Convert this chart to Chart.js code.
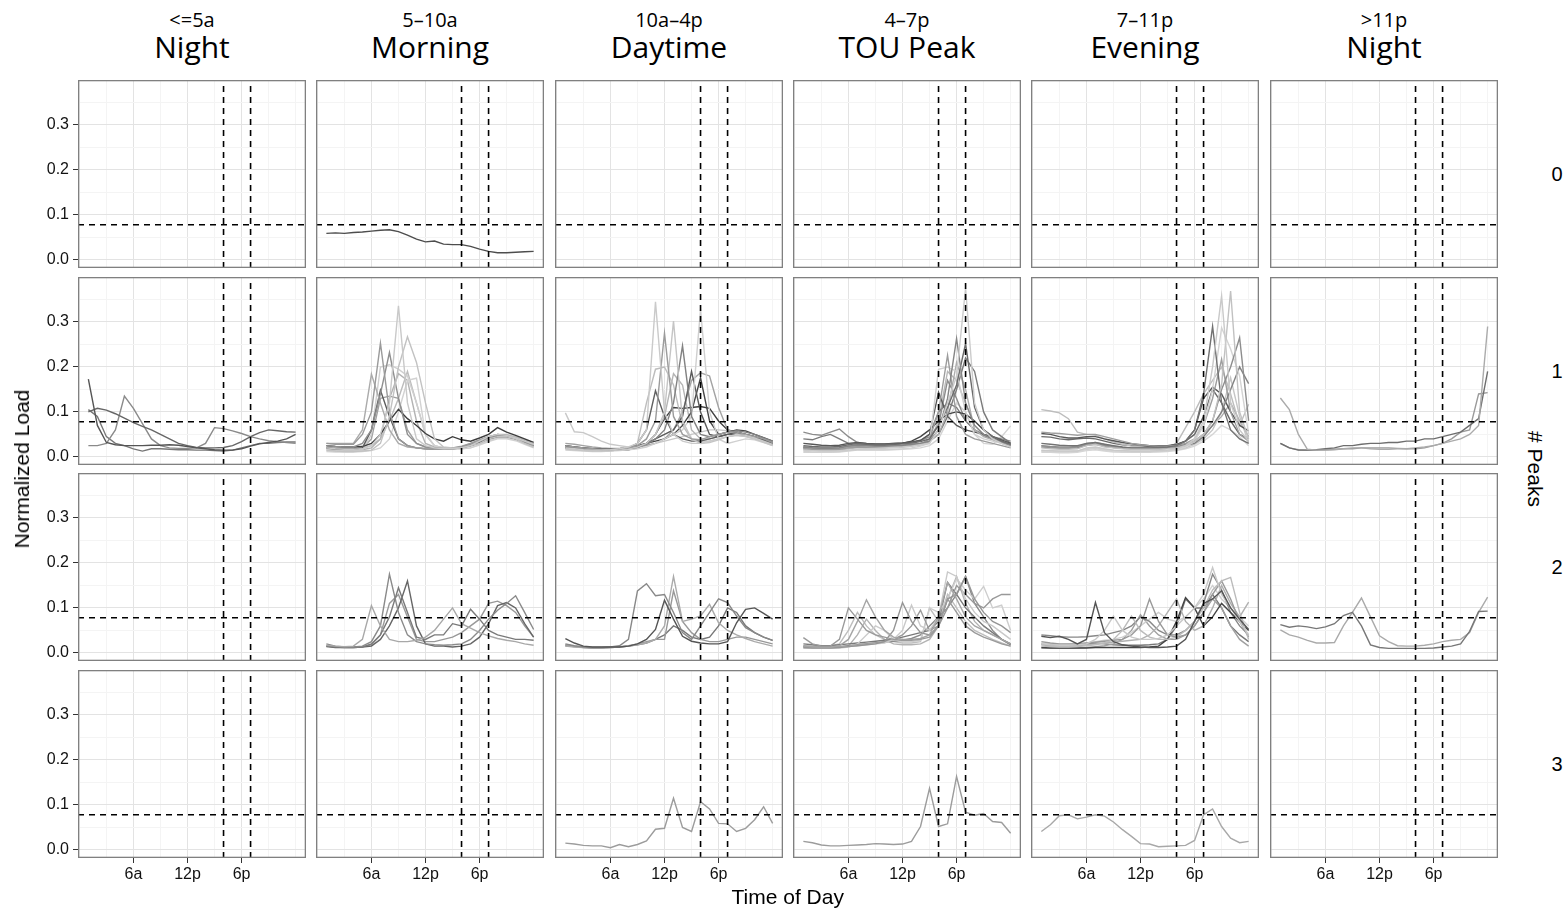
<!DOCTYPE html>
<html>
<head>
<meta charset="utf-8">
<title>Daily load shapes by peak period and number of peaks</title>
<script src="https://cdn.jsdelivr.net/npm/chart.js@4.4.1/dist/chart.umd.min.js"></script>
<style>
    html, body { margin: 0; padding: 0; background: #fff; }
    #figure {
        position: relative;
        width: 1568px;
        height: 910px;
        overflow: hidden;
        font-family: 'Liberation Sans', Arial, sans-serif;
        color: #000;
    }
    #figure canvas { position: absolute; }
    .label { position: absolute; white-space: nowrap; }
    .period-range, .period-name {
        font-family: 'Open Sans', sans-serif;
        text-align: center;
        width: 228px;
    }
    .period-range { font-size: 20px; line-height: 24px; top: 8px; }
    .period-name { font-size: 30px; line-height: 36px; top: 29px; }
    .peak-count { font-size: 20px; line-height: 24px; transform: translate(-50%, -50%); }
    .axis-title { font-size: 21px; line-height: 24px; }
</style>
</head>
<body>
<div id="figure"></div>
<script>
// Hour of day for every series (1 = first hour after midnight)
const hours = [1, 2, 3, 4, 5, 6, 7, 8, 9, 10, 11, 12, 13, 14, 15, 16, 17, 18, 19, 20, 21, 22, 23, 24];
const hourLabels = { 6: '6a', 12: '12p', 18: '6p' };
const hourGrid = [0, 3, 6, 9, 12, 15, 18, 21, 24];
const loadGrid = [0, 0.05, 0.1, 0.15, 0.2, 0.25, 0.3, 0.35];

const periodRanges = ['<=5a', '5\u201310a', '10a\u20134p', '4\u20137p', '7\u201311p', '>11p'];
const periodNames = ['Night', 'Morning', 'Daytime', 'TOU Peak', 'Evening', 'Night'];
const peakCounts = ['0', '1', '2', '3'];

// reference lines: load threshold and the TOU window (4p-7p)
const loadThreshold = 0.078;
const touWindow = [16, 19];

// ---- 0 peaks ----
const morning0a = [0.059, 0.060, 0.059, 0.061, 0.062, 0.064, 0.066, 0.067, 0.063, 0.055, 0.046, 0.040, 0.042, 0.035, 0.034, 0.034, 0.030, 0.024, 0.019, 0.016, 0.016, 0.017, 0.018, 0.019];

// ---- 1 peak ----
const night1a = [0.173, 0.070, 0.032, 0.027, 0.025, 0.025, 0.025, 0.026, 0.026, 0.027, 0.026, 0.023, 0.020, 0.018, 0.016, 0.015, 0.015, 0.018, 0.024, 0.029, 0.032, 0.035, 0.040, 0.050];
const night1b = [0.100, 0.108, 0.104, 0.096, 0.086, 0.076, 0.068, 0.060, 0.050, 0.040, 0.030, 0.025, 0.021, 0.020, 0.020, 0.021, 0.025, 0.034, 0.045, 0.054, 0.060, 0.058, 0.056, 0.055];
const night1c = [0.025, 0.025, 0.030, 0.060, 0.135, 0.108, 0.074, 0.040, 0.025, 0.020, 0.019, 0.019, 0.020, 0.030, 0.065, 0.063, 0.058, 0.052, 0.045, 0.040, 0.036, 0.034, 0.032, 0.030];
const night1d = [0.105, 0.090, 0.045, 0.030, 0.025, 0.018, 0.013, 0.018, 0.018, 0.017, 0.016, 0.016, 0.015, 0.015, 0.014, 0.013, 0.015, 0.020, 0.025, 0.030, 0.030, 0.032, 0.033, 0.033];

const morning1a = [0.020, 0.018, 0.017, 0.017, 0.018, 0.025, 0.050, 0.120, 0.336, 0.120, 0.040, 0.025, 0.020, 0.018, 0.018, 0.020, 0.025, 0.035, 0.045, 0.050, 0.048, 0.042, 0.035, 0.028];
const morning1b = [0.015, 0.013, 0.012, 0.012, 0.013, 0.015, 0.030, 0.090, 0.200, 0.267, 0.210, 0.120, 0.040, 0.022, 0.020, 0.020, 0.025, 0.030, 0.040, 0.045, 0.045, 0.040, 0.030, 0.022];
const morning1c = [0.030, 0.028, 0.028, 0.028, 0.050, 0.100, 0.253, 0.100, 0.040, 0.025, 0.020, 0.018, 0.017, 0.017, 0.018, 0.022, 0.030, 0.038, 0.045, 0.050, 0.048, 0.042, 0.035, 0.025];
const morning1d = [0.025, 0.023, 0.022, 0.022, 0.030, 0.060, 0.140, 0.232, 0.130, 0.050, 0.030, 0.022, 0.020, 0.019, 0.020, 0.022, 0.028, 0.035, 0.042, 0.048, 0.046, 0.040, 0.033, 0.025];
const morning1e = [0.030, 0.030, 0.030, 0.030, 0.060, 0.184, 0.120, 0.060, 0.030, 0.022, 0.020, 0.018, 0.018, 0.018, 0.020, 0.024, 0.030, 0.038, 0.045, 0.050, 0.047, 0.042, 0.035, 0.030];
const morning1f = [0.020, 0.018, 0.017, 0.017, 0.020, 0.060, 0.148, 0.090, 0.040, 0.025, 0.020, 0.018, 0.017, 0.017, 0.018, 0.020, 0.025, 0.032, 0.040, 0.045, 0.045, 0.040, 0.033, 0.025];
const morning1g = [0.025, 0.023, 0.022, 0.022, 0.023, 0.030, 0.050, 0.080, 0.106, 0.085, 0.070, 0.052, 0.040, 0.035, 0.045, 0.038, 0.035, 0.042, 0.050, 0.065, 0.055, 0.048, 0.040, 0.032];
const morning1h = [0.015, 0.013, 0.012, 0.012, 0.015, 0.050, 0.200, 0.205, 0.195, 0.180, 0.120, 0.050, 0.025, 0.020, 0.018, 0.018, 0.020, 0.028, 0.036, 0.042, 0.042, 0.038, 0.030, 0.022];
const morning1i = [0.012, 0.011, 0.011, 0.011, 0.012, 0.014, 0.020, 0.040, 0.100, 0.170, 0.175, 0.050, 0.025, 0.020, 0.018, 0.018, 0.020, 0.026, 0.034, 0.040, 0.040, 0.036, 0.028, 0.020];
const morning1j = [0.018, 0.016, 0.015, 0.015, 0.016, 0.020, 0.040, 0.130, 0.185, 0.170, 0.080, 0.030, 0.022, 0.020, 0.019, 0.020, 0.024, 0.030, 0.038, 0.044, 0.043, 0.038, 0.030, 0.024];
const morning1k = [0.020, 0.018, 0.017, 0.017, 0.020, 0.040, 0.130, 0.135, 0.130, 0.060, 0.030, 0.022, 0.020, 0.019, 0.019, 0.022, 0.026, 0.034, 0.042, 0.046, 0.045, 0.040, 0.032, 0.025];
const morning1l = [0.022, 0.020, 0.019, 0.019, 0.020, 0.025, 0.040, 0.080, 0.130, 0.190, 0.120, 0.050, 0.025, 0.020, 0.020, 0.021, 0.026, 0.034, 0.042, 0.050, 0.050, 0.045, 0.038, 0.030];

const daytime1a = [0.020, 0.018, 0.016, 0.015, 0.015, 0.016, 0.018, 0.022, 0.030, 0.060, 0.345, 0.100, 0.050, 0.035, 0.030, 0.030, 0.035, 0.040, 0.045, 0.050, 0.048, 0.042, 0.035, 0.028];
const daytime1b = [0.025, 0.022, 0.020, 0.018, 0.016, 0.016, 0.018, 0.020, 0.025, 0.040, 0.080, 0.275, 0.090, 0.050, 0.040, 0.038, 0.045, 0.050, 0.055, 0.055, 0.050, 0.045, 0.040, 0.032];
const daytime1c = [0.018, 0.016, 0.014, 0.013, 0.013, 0.014, 0.015, 0.018, 0.022, 0.030, 0.050, 0.100, 0.302, 0.080, 0.040, 0.030, 0.032, 0.038, 0.045, 0.048, 0.045, 0.040, 0.033, 0.025];
const daytime1d = [0.022, 0.020, 0.018, 0.017, 0.016, 0.017, 0.018, 0.020, 0.022, 0.028, 0.040, 0.060, 0.120, 0.247, 0.090, 0.050, 0.045, 0.050, 0.055, 0.058, 0.055, 0.050, 0.042, 0.035];
const daytime1e = [0.015, 0.014, 0.013, 0.012, 0.012, 0.013, 0.014, 0.016, 0.018, 0.022, 0.030, 0.040, 0.050, 0.060, 0.090, 0.328, 0.100, 0.040, 0.030, 0.035, 0.040, 0.038, 0.032, 0.025];
const daytime1f = [0.020, 0.018, 0.016, 0.015, 0.015, 0.016, 0.017, 0.020, 0.025, 0.030, 0.040, 0.050, 0.060, 0.090, 0.190, 0.100, 0.050, 0.045, 0.050, 0.055, 0.050, 0.045, 0.038, 0.030];
const daytime1g = [0.025, 0.022, 0.020, 0.018, 0.017, 0.017, 0.018, 0.020, 0.024, 0.030, 0.035, 0.040, 0.050, 0.070, 0.100, 0.176, 0.080, 0.050, 0.055, 0.060, 0.058, 0.050, 0.043, 0.035];
const daytime1h = [0.030, 0.028, 0.025, 0.022, 0.020, 0.019, 0.019, 0.020, 0.022, 0.026, 0.030, 0.040, 0.060, 0.100, 0.170, 0.187, 0.180, 0.110, 0.060, 0.055, 0.050, 0.045, 0.040, 0.032];
const daytime1i = [0.025, 0.022, 0.020, 0.018, 0.017, 0.017, 0.018, 0.020, 0.030, 0.060, 0.147, 0.090, 0.050, 0.040, 0.035, 0.035, 0.040, 0.045, 0.050, 0.050, 0.048, 0.043, 0.036, 0.028];
const daytime1j = [0.018, 0.016, 0.015, 0.014, 0.014, 0.015, 0.016, 0.018, 0.030, 0.120, 0.195, 0.200, 0.160, 0.070, 0.040, 0.035, 0.035, 0.040, 0.045, 0.048, 0.046, 0.040, 0.033, 0.026];
const daytime1k = [0.020, 0.018, 0.016, 0.015, 0.015, 0.016, 0.017, 0.020, 0.024, 0.030, 0.050, 0.090, 0.185, 0.160, 0.060, 0.040, 0.040, 0.045, 0.050, 0.052, 0.050, 0.045, 0.038, 0.030];
const daytime1l = [0.020, 0.018, 0.016, 0.015, 0.014, 0.014, 0.015, 0.016, 0.020, 0.030, 0.050, 0.085, 0.110, 0.108, 0.110, 0.112, 0.108, 0.080, 0.060, 0.055, 0.050, 0.045, 0.038, 0.030];
const daytime1m = [0.098, 0.056, 0.054, 0.045, 0.035, 0.028, 0.025, 0.022, 0.022, 0.025, 0.030, 0.035, 0.040, 0.045, 0.050, 0.055, 0.060, 0.060, 0.058, 0.055, 0.050, 0.045, 0.040, 0.035];

const touPeak1a = [0.015, 0.014, 0.013, 0.013, 0.013, 0.015, 0.017, 0.018, 0.019, 0.020, 0.021, 0.022, 0.024, 0.027, 0.030, 0.060, 0.120, 0.180, 0.375, 0.120, 0.060, 0.040, 0.030, 0.022];
const touPeak1b = [0.022, 0.020, 0.019, 0.019, 0.020, 0.024, 0.026, 0.025, 0.024, 0.024, 0.025, 0.026, 0.028, 0.030, 0.035, 0.060, 0.130, 0.263, 0.120, 0.070, 0.050, 0.040, 0.032, 0.025];
const touPeak1c = [0.025, 0.023, 0.022, 0.022, 0.023, 0.027, 0.030, 0.028, 0.027, 0.027, 0.028, 0.029, 0.031, 0.034, 0.040, 0.070, 0.110, 0.160, 0.252, 0.110, 0.060, 0.045, 0.035, 0.028];
const touPeak1d = [0.018, 0.017, 0.016, 0.016, 0.017, 0.020, 0.022, 0.021, 0.021, 0.021, 0.022, 0.023, 0.025, 0.028, 0.040, 0.100, 0.226, 0.090, 0.050, 0.040, 0.035, 0.030, 0.025, 0.020];
const touPeak1e = [0.012, 0.011, 0.011, 0.011, 0.012, 0.014, 0.016, 0.016, 0.016, 0.016, 0.017, 0.018, 0.020, 0.024, 0.030, 0.195, 0.200, 0.190, 0.100, 0.050, 0.040, 0.035, 0.030, 0.024];
const touPeak1f = [0.020, 0.018, 0.017, 0.017, 0.018, 0.022, 0.024, 0.023, 0.022, 0.022, 0.023, 0.024, 0.026, 0.030, 0.035, 0.050, 0.100, 0.210, 0.150, 0.060, 0.045, 0.038, 0.030, 0.025];
const touPeak1g = [0.030, 0.028, 0.026, 0.025, 0.026, 0.030, 0.032, 0.030, 0.029, 0.029, 0.030, 0.031, 0.033, 0.037, 0.050, 0.144, 0.090, 0.070, 0.060, 0.055, 0.050, 0.045, 0.038, 0.030];
const touPeak1h = [0.022, 0.020, 0.019, 0.019, 0.020, 0.024, 0.026, 0.025, 0.024, 0.024, 0.025, 0.026, 0.028, 0.030, 0.035, 0.050, 0.090, 0.150, 0.220, 0.190, 0.100, 0.060, 0.045, 0.030];
const touPeak1i = [0.020, 0.019, 0.018, 0.018, 0.019, 0.022, 0.024, 0.024, 0.025, 0.026, 0.028, 0.030, 0.035, 0.045, 0.060, 0.080, 0.095, 0.100, 0.095, 0.080, 0.060, 0.045, 0.035, 0.025];
const touPeak1j = [0.055, 0.050, 0.048, 0.055, 0.062, 0.045, 0.032, 0.030, 0.029, 0.029, 0.030, 0.031, 0.033, 0.036, 0.045, 0.070, 0.170, 0.130, 0.080, 0.060, 0.050, 0.045, 0.040, 0.035];
const touPeak1k = [0.040, 0.038, 0.045, 0.050, 0.040, 0.030, 0.028, 0.027, 0.027, 0.027, 0.028, 0.030, 0.032, 0.036, 0.050, 0.100, 0.120, 0.110, 0.080, 0.060, 0.048, 0.040, 0.033, 0.027];
const touPeak1l = [0.010, 0.010, 0.010, 0.010, 0.011, 0.013, 0.015, 0.015, 0.015, 0.015, 0.016, 0.017, 0.018, 0.020, 0.025, 0.040, 0.080, 0.120, 0.100, 0.050, 0.030, 0.028, 0.045, 0.069];
const touPeak1m = [0.016, 0.015, 0.014, 0.014, 0.015, 0.018, 0.020, 0.020, 0.020, 0.020, 0.021, 0.022, 0.024, 0.027, 0.033, 0.080, 0.190, 0.170, 0.120, 0.070, 0.050, 0.040, 0.032, 0.026];

const evening1a = [0.015, 0.014, 0.013, 0.013, 0.013, 0.020, 0.022, 0.018, 0.015, 0.014, 0.013, 0.013, 0.013, 0.014, 0.015, 0.018, 0.025, 0.040, 0.080, 0.200, 0.358, 0.120, 0.060, 0.035];
const evening1b = [0.020, 0.018, 0.017, 0.017, 0.018, 0.025, 0.028, 0.022, 0.020, 0.018, 0.017, 0.017, 0.017, 0.017, 0.018, 0.020, 0.025, 0.035, 0.050, 0.080, 0.160, 0.369, 0.100, 0.040];
const evening1c = [0.030, 0.028, 0.026, 0.025, 0.025, 0.030, 0.032, 0.028, 0.025, 0.022, 0.020, 0.020, 0.020, 0.021, 0.022, 0.025, 0.035, 0.060, 0.140, 0.290, 0.120, 0.060, 0.040, 0.030];
const evening1d = [0.025, 0.023, 0.022, 0.022, 0.023, 0.028, 0.030, 0.026, 0.023, 0.021, 0.020, 0.020, 0.020, 0.020, 0.021, 0.023, 0.028, 0.035, 0.050, 0.080, 0.150, 0.200, 0.265, 0.080];
const evening1e = [0.012, 0.011, 0.011, 0.011, 0.012, 0.018, 0.020, 0.016, 0.013, 0.012, 0.012, 0.012, 0.012, 0.013, 0.014, 0.016, 0.022, 0.035, 0.070, 0.150, 0.287, 0.240, 0.180, 0.050];
const evening1f = [0.022, 0.020, 0.019, 0.019, 0.020, 0.026, 0.028, 0.024, 0.021, 0.019, 0.018, 0.018, 0.018, 0.018, 0.019, 0.021, 0.025, 0.030, 0.045, 0.070, 0.100, 0.150, 0.200, 0.163];
const evening1g = [0.055, 0.053, 0.052, 0.050, 0.048, 0.050, 0.050, 0.045, 0.040, 0.035, 0.030, 0.027, 0.025, 0.024, 0.024, 0.026, 0.030, 0.040, 0.070, 0.130, 0.217, 0.100, 0.050, 0.035];
const evening1h = [0.052, 0.050, 0.045, 0.042, 0.042, 0.045, 0.045, 0.040, 0.036, 0.032, 0.029, 0.027, 0.025, 0.025, 0.025, 0.028, 0.035, 0.060, 0.130, 0.155, 0.140, 0.100, 0.070, 0.058];
const evening1i = [0.105, 0.102, 0.098, 0.085, 0.055, 0.050, 0.048, 0.040, 0.033, 0.028, 0.024, 0.022, 0.020, 0.020, 0.022, 0.030, 0.065, 0.100, 0.140, 0.170, 0.200, 0.140, 0.070, 0.117];
const evening1j = [0.014, 0.013, 0.012, 0.012, 0.013, 0.017, 0.019, 0.016, 0.014, 0.013, 0.012, 0.012, 0.012, 0.013, 0.014, 0.016, 0.020, 0.028, 0.040, 0.060, 0.100, 0.176, 0.090, 0.030];
const evening1k = [0.045, 0.044, 0.040, 0.038, 0.040, 0.042, 0.040, 0.035, 0.030, 0.027, 0.025, 0.024, 0.023, 0.023, 0.024, 0.027, 0.035, 0.050, 0.090, 0.150, 0.120, 0.080, 0.050, 0.040];
const evening1l = [0.025, 0.022, 0.020, 0.020, 0.022, 0.030, 0.032, 0.028, 0.024, 0.021, 0.019, 0.018, 0.018, 0.018, 0.019, 0.021, 0.026, 0.035, 0.050, 0.070, 0.090, 0.120, 0.080, 0.045];
const evening1m = [0.010, 0.010, 0.009, 0.009, 0.010, 0.014, 0.016, 0.013, 0.011, 0.010, 0.010, 0.010, 0.010, 0.011, 0.012, 0.014, 0.018, 0.024, 0.035, 0.050, 0.070, 0.060, 0.045, 0.025];

const lateNight1a = [0.131, 0.105, 0.050, 0.017, 0.015, 0.015, 0.016, 0.018, 0.020, 0.020, 0.018, 0.017, 0.017, 0.018, 0.018, 0.020, 0.022, 0.025, 0.030, 0.035, 0.040, 0.050, 0.070, 0.290];
const lateNight1b = [0.030, 0.020, 0.015, 0.015, 0.016, 0.018, 0.020, 0.025, 0.025, 0.028, 0.030, 0.030, 0.032, 0.032, 0.035, 0.035, 0.040, 0.040, 0.045, 0.050, 0.055, 0.070, 0.085, 0.190];
const lateNight1c = [0.030, 0.020, 0.016, 0.015, 0.015, 0.016, 0.017, 0.018, 0.018, 0.020, 0.020, 0.020, 0.020, 0.019, 0.018, 0.018, 0.020, 0.025, 0.030, 0.040, 0.055, 0.060, 0.140, 0.143];

// ---- 2 peaks ----
const morning2a = [0.017, 0.015, 0.014, 0.015, 0.030, 0.105, 0.060, 0.030, 0.025, 0.025, 0.028, 0.035, 0.050, 0.075, 0.100, 0.065, 0.055, 0.045, 0.038, 0.032, 0.028, 0.025, 0.020, 0.017];
const morning2b = [0.020, 0.015, 0.013, 0.013, 0.015, 0.025, 0.060, 0.175, 0.090, 0.040, 0.025, 0.020, 0.018, 0.017, 0.018, 0.020, 0.030, 0.050, 0.075, 0.095, 0.110, 0.127, 0.090, 0.052];
const morning2c = [0.015, 0.013, 0.012, 0.012, 0.013, 0.020, 0.040, 0.080, 0.145, 0.090, 0.035, 0.030, 0.040, 0.040, 0.065, 0.060, 0.097, 0.075, 0.050, 0.040, 0.035, 0.030, 0.030, 0.028];
const morning2d = [0.014, 0.012, 0.012, 0.012, 0.013, 0.015, 0.030, 0.060, 0.100, 0.160, 0.060, 0.020, 0.015, 0.015, 0.013, 0.015, 0.020, 0.035, 0.065, 0.105, 0.112, 0.100, 0.065, 0.035];
const morning2e = [0.016, 0.014, 0.013, 0.013, 0.014, 0.018, 0.040, 0.110, 0.130, 0.080, 0.030, 0.025, 0.025, 0.030, 0.035, 0.045, 0.060, 0.075, 0.110, 0.115, 0.105, 0.090, 0.060, 0.035];

const daytime2a = [0.032, 0.022, 0.015, 0.013, 0.013, 0.013, 0.013, 0.015, 0.020, 0.030, 0.052, 0.117, 0.075, 0.037, 0.026, 0.022, 0.020, 0.020, 0.025, 0.067, 0.097, 0.100, 0.088, 0.075];
const daytime2b = [0.020, 0.016, 0.013, 0.012, 0.012, 0.013, 0.016, 0.030, 0.138, 0.154, 0.127, 0.130, 0.090, 0.045, 0.030, 0.060, 0.090, 0.120, 0.112, 0.082, 0.056, 0.045, 0.035, 0.028];
const daytime2c = [0.015, 0.013, 0.012, 0.011, 0.011, 0.012, 0.013, 0.015, 0.018, 0.022, 0.030, 0.060, 0.170, 0.070, 0.075, 0.082, 0.108, 0.067, 0.050, 0.040, 0.032, 0.025, 0.020, 0.015];
const daytime2d = [0.018, 0.015, 0.013, 0.012, 0.012, 0.013, 0.014, 0.016, 0.020, 0.025, 0.030, 0.030, 0.138, 0.070, 0.045, 0.030, 0.025, 0.025, 0.030, 0.035, 0.035, 0.030, 0.025, 0.020];
const daytime2e = [0.016, 0.014, 0.012, 0.011, 0.011, 0.012, 0.013, 0.015, 0.018, 0.022, 0.030, 0.040, 0.060, 0.050, 0.035, 0.030, 0.035, 0.060, 0.100, 0.090, 0.060, 0.045, 0.035, 0.028];

const touPeak2a = [0.034, 0.020, 0.015, 0.015, 0.030, 0.100, 0.075, 0.050, 0.040, 0.035, 0.030, 0.028, 0.028, 0.030, 0.035, 0.060, 0.120, 0.090, 0.060, 0.045, 0.035, 0.028, 0.020, 0.015];
const touPeak2b = [0.015, 0.014, 0.013, 0.013, 0.016, 0.030, 0.070, 0.118, 0.080, 0.050, 0.035, 0.030, 0.030, 0.032, 0.040, 0.080, 0.157, 0.120, 0.080, 0.060, 0.050, 0.040, 0.030, 0.020];
const touPeak2c = [0.012, 0.011, 0.011, 0.011, 0.012, 0.014, 0.016, 0.018, 0.020, 0.025, 0.050, 0.112, 0.070, 0.045, 0.040, 0.060, 0.120, 0.130, 0.170, 0.120, 0.090, 0.070, 0.060, 0.045];
const touPeak2d = [0.012, 0.011, 0.011, 0.011, 0.012, 0.014, 0.016, 0.018, 0.020, 0.022, 0.030, 0.050, 0.106, 0.060, 0.050, 0.080, 0.180, 0.170, 0.120, 0.090, 0.070, 0.060, 0.045, 0.030];
const touPeak2e = [0.014, 0.013, 0.012, 0.012, 0.013, 0.015, 0.018, 0.020, 0.022, 0.025, 0.030, 0.040, 0.060, 0.095, 0.050, 0.060, 0.100, 0.150, 0.130, 0.110, 0.100, 0.120, 0.130, 0.130];
const touPeak2f = [0.010, 0.010, 0.010, 0.010, 0.011, 0.013, 0.020, 0.040, 0.060, 0.050, 0.030, 0.025, 0.025, 0.028, 0.100, 0.090, 0.120, 0.165, 0.140, 0.120, 0.148, 0.100, 0.106, 0.050];
const touPeak2g = [0.020, 0.018, 0.016, 0.016, 0.018, 0.020, 0.022, 0.024, 0.026, 0.028, 0.030, 0.035, 0.040, 0.045, 0.050, 0.070, 0.157, 0.130, 0.100, 0.080, 0.060, 0.045, 0.030, 0.020];
const touPeak2h = [0.015, 0.014, 0.013, 0.013, 0.014, 0.016, 0.018, 0.020, 0.022, 0.024, 0.026, 0.028, 0.032, 0.040, 0.060, 0.080, 0.100, 0.130, 0.170, 0.110, 0.080, 0.050, 0.030, 0.018];
const touPeak2i = [0.013, 0.012, 0.012, 0.012, 0.013, 0.015, 0.040, 0.075, 0.050, 0.030, 0.020, 0.018, 0.018, 0.020, 0.030, 0.060, 0.120, 0.170, 0.110, 0.070, 0.050, 0.040, 0.030, 0.020];
const touPeak2j = [0.016, 0.015, 0.015, 0.016, 0.020, 0.050, 0.090, 0.060, 0.040, 0.030, 0.025, 0.022, 0.022, 0.025, 0.100, 0.070, 0.130, 0.100, 0.070, 0.050, 0.040, 0.030, 0.022, 0.015];

const evening2a = [0.037, 0.034, 0.037, 0.030, 0.020, 0.030, 0.112, 0.045, 0.025, 0.018, 0.015, 0.013, 0.012, 0.012, 0.013, 0.015, 0.030, 0.070, 0.110, 0.120, 0.138, 0.100, 0.075, 0.052];
const evening2b = [0.020, 0.018, 0.017, 0.017, 0.018, 0.020, 0.030, 0.050, 0.082, 0.050, 0.035, 0.030, 0.030, 0.032, 0.040, 0.060, 0.080, 0.100, 0.130, 0.190, 0.130, 0.100, 0.070, 0.040];
const evening2c = [0.015, 0.014, 0.013, 0.013, 0.014, 0.016, 0.018, 0.022, 0.030, 0.050, 0.082, 0.050, 0.035, 0.030, 0.030, 0.035, 0.050, 0.070, 0.100, 0.140, 0.160, 0.168, 0.090, 0.030];
const evening2d = [0.025, 0.022, 0.020, 0.020, 0.020, 0.022, 0.024, 0.026, 0.028, 0.030, 0.040, 0.060, 0.120, 0.070, 0.040, 0.035, 0.040, 0.060, 0.090, 0.130, 0.160, 0.120, 0.070, 0.035];
const evening2e = [0.018, 0.016, 0.015, 0.015, 0.016, 0.018, 0.020, 0.022, 0.024, 0.026, 0.028, 0.030, 0.040, 0.060, 0.090, 0.120, 0.070, 0.050, 0.060, 0.100, 0.150, 0.110, 0.080, 0.113];
const evening2f = [0.012, 0.011, 0.011, 0.011, 0.011, 0.011, 0.012, 0.012, 0.012, 0.012, 0.012, 0.012, 0.013, 0.015, 0.030, 0.070, 0.123, 0.100, 0.060, 0.080, 0.110, 0.090, 0.070, 0.050];
const evening2g = [0.040, 0.038, 0.036, 0.035, 0.035, 0.036, 0.038, 0.040, 0.045, 0.050, 0.060, 0.080, 0.070, 0.050, 0.040, 0.040, 0.050, 0.070, 0.110, 0.175, 0.140, 0.090, 0.060, 0.040];
const evening2h = [0.022, 0.020, 0.019, 0.019, 0.020, 0.022, 0.025, 0.028, 0.030, 0.035, 0.045, 0.060, 0.075, 0.090, 0.075, 0.070, 0.080, 0.100, 0.120, 0.150, 0.120, 0.100, 0.080, 0.060];
const evening2i = [0.011, 0.011, 0.010, 0.010, 0.011, 0.012, 0.014, 0.016, 0.020, 0.030, 0.050, 0.085, 0.060, 0.040, 0.030, 0.030, 0.040, 0.060, 0.090, 0.120, 0.100, 0.060, 0.030, 0.015];
const evening2j = [0.020, 0.018, 0.017, 0.017, 0.018, 0.020, 0.022, 0.020, 0.018, 0.017, 0.017, 0.017, 0.018, 0.020, 0.030, 0.060, 0.120, 0.100, 0.100, 0.130, 0.100, 0.060, 0.040, 0.025];

const lateNight2a = [0.063, 0.057, 0.060, 0.058, 0.054, 0.058, 0.065, 0.083, 0.090, 0.060, 0.018, 0.012, 0.010, 0.010, 0.010, 0.010, 0.010, 0.011, 0.013, 0.015, 0.020, 0.048, 0.092, 0.093];
const lateNight2b = [0.051, 0.040, 0.035, 0.028, 0.022, 0.022, 0.023, 0.060, 0.090, 0.122, 0.080, 0.038, 0.025, 0.016, 0.015, 0.015, 0.017, 0.020, 0.025, 0.028, 0.030, 0.045, 0.090, 0.124];

// ---- 3 peaks ----
const daytime3a = [0.015, 0.013, 0.010, 0.009, 0.009, 0.005, 0.012, 0.007, 0.012, 0.020, 0.046, 0.048, 0.115, 0.050, 0.041, 0.107, 0.091, 0.059, 0.058, 0.041, 0.048, 0.067, 0.096, 0.059];
const touPeak3a = [0.019, 0.016, 0.011, 0.009, 0.009, 0.010, 0.011, 0.012, 0.014, 0.013, 0.012, 0.013, 0.019, 0.052, 0.137, 0.052, 0.058, 0.163, 0.084, 0.077, 0.081, 0.063, 0.061, 0.037];
const evening3a = [0.041, 0.056, 0.076, 0.078, 0.069, 0.073, 0.078, 0.075, 0.062, 0.045, 0.030, 0.014, 0.013, 0.007, 0.008, 0.009, 0.010, 0.021, 0.078, 0.091, 0.052, 0.026, 0.016, 0.019];

// which households go in which facet (row = # peaks, col = peak period)
const facets = [
    { row: 0, col: 1, series: [morning0a], greys: ['#4d4d4d'] },
    { row: 1, col: 0, series: [night1a, night1b, night1c, night1d],
      greys: ['#555555', '#666666', '#8a8a8a', '#777777'] },
    { row: 1, col: 1, series: [morning1a, morning1b, morning1c, morning1d, morning1e, morning1f, morning1g, morning1h, morning1i, morning1j, morning1k, morning1l],
      greys: ['#c9c9c9', '#c2c2c2', '#9a9a9a', '#8f8f8f', '#ababab', '#5c5c5c', '#3d3d3d', '#cfcfcf', '#d2d2d2', '#b3b3b3', '#a0a0a0', '#bcbcbc'] },
    { row: 1, col: 2, series: [daytime1a, daytime1b, daytime1c, daytime1d, daytime1e, daytime1f, daytime1g, daytime1h, daytime1i, daytime1j, daytime1k, daytime1l, daytime1m],
      greys: ['#cacaca', '#9b9b9b', '#c5c5c5', '#828282', '#d0d0d0', '#5a5a5a', '#474747', '#a3a3a3', '#606060', '#bdbdbd', '#b5b5b5', '#404040', '#c8c8c8'] },
    { row: 1, col: 3, series: [touPeak1a, touPeak1b, touPeak1c, touPeak1d, touPeak1e, touPeak1f, touPeak1g, touPeak1h, touPeak1i, touPeak1j, touPeak1k, touPeak1l, touPeak1m],
      greys: ['#cbcbcb', '#858585', '#6b6b6b', '#9c9c9c', '#d0d0d0', '#adadad', '#575757', '#7a7a7a', '#454545', '#8c8c8c', '#7b7b7b', '#d4d4d4', '#b8b8b8'] },
    { row: 1, col: 4, series: [evening1a, evening1b, evening1c, evening1d, evening1e, evening1f, evening1g, evening1h, evening1i, evening1j, evening1k, evening1l, evening1m],
      greys: ['#c9c9c9', '#c1c1c1', '#727272', '#8d8d8d', '#d3d3d3', '#828282', '#9e9e9e', '#575757', '#bdbdbd', '#c6c6c6', '#696969', '#aaaaaa', '#d6d6d6'] },
    { row: 1, col: 5, series: [lateNight1a, lateNight1b, lateNight1c],
      greys: ['#ababab', '#6e6e6e', '#9a9a9a'] },
    { row: 2, col: 1, series: [morning2a, morning2b, morning2c, morning2d, morning2e],
      greys: ['#a8a8a8', '#8a8a8a', '#7a7a7a', '#666666', '#999999'] },
    { row: 2, col: 2, series: [daytime2a, daytime2b, daytime2c, daytime2d, daytime2e],
      greys: ['#555555', '#888888', '#aaaaaa', '#999999', '#777777'] },
    { row: 2, col: 3, series: [touPeak2a, touPeak2b, touPeak2c, touPeak2d, touPeak2e, touPeak2f, touPeak2g, touPeak2h, touPeak2i, touPeak2j],
      greys: ['#9a9a9a', '#a5a5a5', '#959595', '#c9c9c9', '#999999', '#cdcdcd', '#7a7a7a', '#8a8a8a', '#b3b3b3', '#bebebe'] },
    { row: 2, col: 4, series: [evening2a, evening2b, evening2c, evening2d, evening2e, evening2f, evening2g, evening2h, evening2i, evening2j],
      greys: ['#555555', '#c8c8c8', '#bbbbbb', '#999999', '#b0b0b0', '#444444', '#888888', '#d0d0d0', '#a0a0a0', '#777777'] },
    { row: 2, col: 5, series: [lateNight2a, lateNight2b], greys: ['#777777', '#aaaaaa'] },
    { row: 3, col: 2, series: [daytime3a], greys: ['#9c9c9c'] },
    { row: 3, col: 3, series: [touPeak3a], greys: ['#9c9c9c'] },
    { row: 3, col: 4, series: [evening3a], greys: ['#a8a8a8'] },
];

// facet grid geometry
const PANEL_X0 = 78, PANEL_DX = 238.3, PANEL_W = 228;
const PANEL_Y0 = 80, PANEL_DY = 196.7, PANEL_H = 188;
const AXIS_W = 52, AXIS_H = 30;
const X_MIN = -0.15, X_MAX = 25.15;
const Y_MIN = -0.018, Y_MAX = 0.4;

Chart.defaults.font.family = "'Liberation Sans', Arial, sans-serif";

const figure = document.getElementById('figure');

const isMajorHour = v => hourLabels[v] !== undefined;
const isMajorLoad = v => Math.round(v * 100) % 10 === 0;

// grey frame round each panel
const panelFrame = {
    id: 'panelFrame',
    afterDraw(chart) {
        const { ctx, chartArea: a } = chart;
        ctx.save();
        ctx.strokeStyle = '#808080';
        ctx.lineWidth = 1.3;
        ctx.strokeRect(a.left + 0.65, a.top + 0.65, a.right - a.left - 1.3, a.bottom - a.top - 1.3);
        ctx.restore();
    },
};

function refLine(points) {
    return {
        data: points,
        borderColor: '#000',
        borderWidth: 1.6,
        borderDash: [6, 5],
        pointRadius: 0,
        fill: false,
    };
}

function makeFacet(row, col, facet) {
    const left = Math.round(PANEL_X0 + col * PANEL_DX);
    const top = Math.round(PANEL_Y0 + row * PANEL_DY);
    const padL = col === 0 ? AXIS_W : 0;
    const padB = row === 3 ? AXIS_H : 0;

    const canvas = document.createElement('canvas');
    canvas.width = PANEL_W + padL;
    canvas.height = PANEL_H + padB;
    canvas.style.left = (left - padL) + 'px';
    canvas.style.top = top + 'px';
    canvas.style.width = canvas.width + 'px';
    canvas.style.height = canvas.height + 'px';
    figure.appendChild(canvas);

    const datasets = [
        refLine([{ x: X_MIN, y: loadThreshold }, { x: X_MAX, y: loadThreshold }]),
        refLine([{ x: touWindow[0], y: Y_MIN }, { x: touWindow[0], y: Y_MAX }]),
        refLine([{ x: touWindow[1], y: Y_MIN }, { x: touWindow[1], y: Y_MAX }]),
    ];
    if (facet) {
        facet.series.forEach((values, i) => {
            datasets.push({
                data: hours.map((h, k) => ({ x: h, y: values[k] })),
                borderColor: facet.greys[i],
                borderWidth: 1.4,
                pointRadius: 0,
                tension: 0,
                fill: false,
            });
        });
    }

    new Chart(canvas, {
        type: 'line',
        data: { datasets },
        options: {
            responsive: false,
            animation: false,
            devicePixelRatio: 1,
            layout: { padding: 0, autoPadding: false },
            events: [],
            plugins: {
                legend: { display: false },
                tooltip: { enabled: false },
            },
            scales: {
                x: {
                    type: 'linear',
                    min: X_MIN,
                    max: X_MAX,
                    afterBuildTicks: s => { s.ticks = hourGrid.map(v => ({ value: v })); },
                    afterFit: s => { s.height = padB; s.paddingLeft = 0; s.paddingRight = 0; },
                    border: { display: false },
                    grid: {
                        color: ctx => isMajorHour(ctx.tick.value) ? '#e3e3e3' : '#f4f4f4',
                        lineWidth: 1,
                        drawTicks: row === 3,
                        tickLength: 5,
                        tickColor: ctx => isMajorHour(ctx.tick.value) ? '#333' : 'rgba(0,0,0,0)',
                    },
                    ticks: {
                        display: row === 3,
                        autoSkip: false,
                        maxRotation: 0,
                        padding: 2,
                        color: '#111',
                        font: { size: 16 },
                        callback: v => hourLabels[v] || '',
                    },
                },
                y: {
                    type: 'linear',
                    min: Y_MIN,
                    max: Y_MAX,
                    afterBuildTicks: s => { s.ticks = loadGrid.map(v => ({ value: v })); },
                    afterFit: s => { s.width = padL; s.paddingTop = 0; s.paddingBottom = 0; },
                    border: { display: false },
                    grid: {
                        color: ctx => isMajorLoad(ctx.tick.value) ? '#e3e3e3' : '#f4f4f4',
                        lineWidth: 1,
                        drawTicks: col === 0,
                        tickLength: 5,
                        tickColor: ctx => isMajorLoad(ctx.tick.value) ? '#333' : 'rgba(0,0,0,0)',
                    },
                    ticks: {
                        display: col === 0,
                        autoSkip: false,
                        padding: 4,
                        color: '#111',
                        font: { size: 16 },
                        callback: v => isMajorLoad(v) ? v.toFixed(1) : '',
                    },
                },
            },
        },
        plugins: [panelFrame],
    });
}

for (let row = 0; row < peakCounts.length; row++) {
    for (let col = 0; col < periodNames.length; col++) {
        const facet = facets.find(f => f.row === row && f.col === col);
        makeFacet(row, col, facet);
    }
}

// facet strips, axis titles
function addLabel(text, cls, styles) {
    const el = document.createElement('div');
    el.className = 'label ' + cls;
    el.textContent = text;
    Object.assign(el.style, styles);
    figure.appendChild(el);
    return el;
}

periodNames.forEach((name, col) => {
    const left = Math.round(PANEL_X0 + col * PANEL_DX) + 'px';
    addLabel(periodRanges[col], 'period-range', { left });
    addLabel(name, 'period-name', { left });
});

peakCounts.forEach((count, row) => {
    const top = Math.round(PANEL_Y0 + row * PANEL_DY + PANEL_H / 2);
    addLabel(count, 'peak-count', { left: '1557px', top: top + 'px' });
});

const gridMidY = (PANEL_Y0 + 3 * PANEL_DY + PANEL_H + PANEL_Y0) / 2;
const gridMidX = (PANEL_X0 + 5 * PANEL_DX + PANEL_W + PANEL_X0) / 2;

addLabel('Normalized Load', 'axis-title', {
    left: '22px', top: gridMidY + 'px',
    transform: 'translate(-50%, -50%) rotate(-90deg)',
});
addLabel('# Peaks', 'axis-title', {
    left: '1535px', top: gridMidY + 'px',
    transform: 'translate(-50%, -50%) rotate(90deg)',
});
addLabel('Time of Day', 'axis-title', {
    left: gridMidX + 'px', top: '897px',
    transform: 'translate(-50%, -50%)',
});
</script>
</body>
</html>
